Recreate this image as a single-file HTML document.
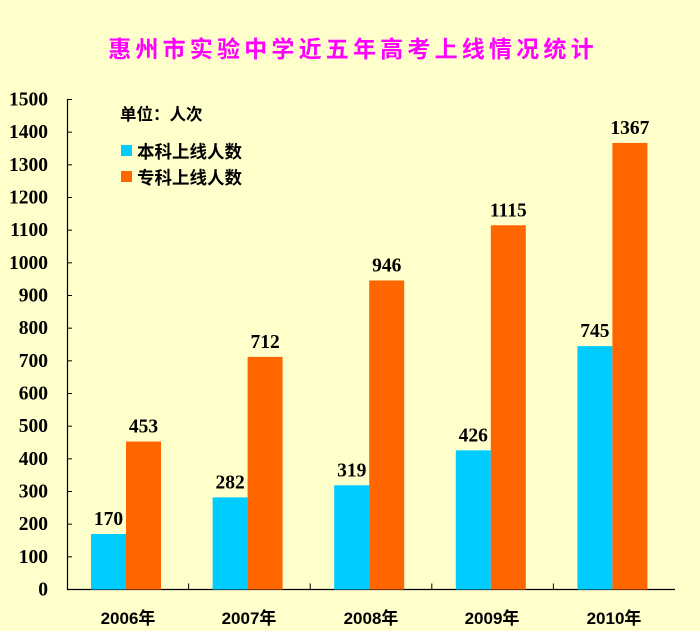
<!DOCTYPE html>
<html><head><meta charset="utf-8"><style>
html,body{margin:0;padding:0;background:#FFFFCC;}
svg{display:block}
.t{font-family:"Liberation Serif",serif;font-weight:bold;font-size:19.5px;fill:#000}
.c{font-family:"Liberation Sans","Noto Sans CJK SC",sans-serif;font-weight:bold;fill:#000}
</style></head><body>
<svg width="700" height="631" viewBox="0 0 700 631" xmlns="http://www.w3.org/2000/svg">
<rect width="700" height="631" fill="#FFFFCC"/>
<text x="353" y="57" text-anchor="middle" font-family="'Noto Sans CJK SC',sans-serif" font-weight="bold" font-size="23" fill="#FF00FF" letter-spacing="4.2">惠州市实验中学近五年高考上线情况统计</text>
<g stroke="#000" stroke-width="1.2">
<line x1="67.5" y1="99" x2="67.5" y2="589.5"/>
<line x1="67" y1="589.5" x2="675" y2="589.5"/>
</g>
<g id="ticks" stroke="#000" stroke-width="1"></g>
<g id="bars"></g>
<text class="c" x="120" y="120" font-size="16.5">单位：人次</text>
<rect x="121" y="145" width="11" height="11" fill="#00CCFF"/>
<text class="c" x="137" y="158" font-size="17.5">本科上线人数</text>
<rect x="121" y="171" width="11" height="11" fill="#FF6600"/>
<text class="c" x="137" y="184" font-size="17.5">专科上线人数</text>
<g class="c" font-size="17" text-anchor="middle">
<text x="128" y="624">2006年</text>
<text x="249" y="624">2007年</text>
<text x="371" y="624">2008年</text>
<text x="492" y="624">2009年</text>
<text x="614" y="624">2010年</text>
</g>
<script>
var s=0.32667,z=589.5,ns="http://www.w3.org/2000/svg";
var tk=document.getElementById('ticks'),svg=document.querySelector('svg');
function el(n,a,p){var e=document.createElementNS(ns,n);for(var k in a)e.setAttribute(k,a[k]);(p||svg).appendChild(e);return e;}
for(var v=0;v<=1500;v+=100){var y=z-v*s;el('line',{x1:67,x2:72,y1:y,y2:y},tk);var t=el('text',{x:48,y:y+6,'text-anchor':'end','class':'t'});t.textContent=v;}
for(var i=1;i<5;i++){var x=67+i*121.6;el('line',{x1:x,x2:x,y1:z,y2:z-6},tk);}
var b=[170,282,319,426,745],o=[453,712,946,1115,1367],bg=document.getElementById('bars');
for(var i=0;i<5;i++){var x0=67+i*121.6+24;
var h1=b[i]*s,h2=o[i]*s;
el('rect',{x:x0,y:z-h1,width:35,height:h1,fill:'#00CCFF'},bg);
el('rect',{x:x0+35,y:z-h2,width:35,height:h2,fill:'#FF6600'},bg);
var t=el('text',{x:x0+17.5,y:z-h1-9,'text-anchor':'middle','class':'t'});t.textContent=b[i];
t=el('text',{x:x0+52.5,y:z-h2-9,'text-anchor':'middle','class':'t'});t.textContent=o[i];}
</script>
</svg>
</body></html>
